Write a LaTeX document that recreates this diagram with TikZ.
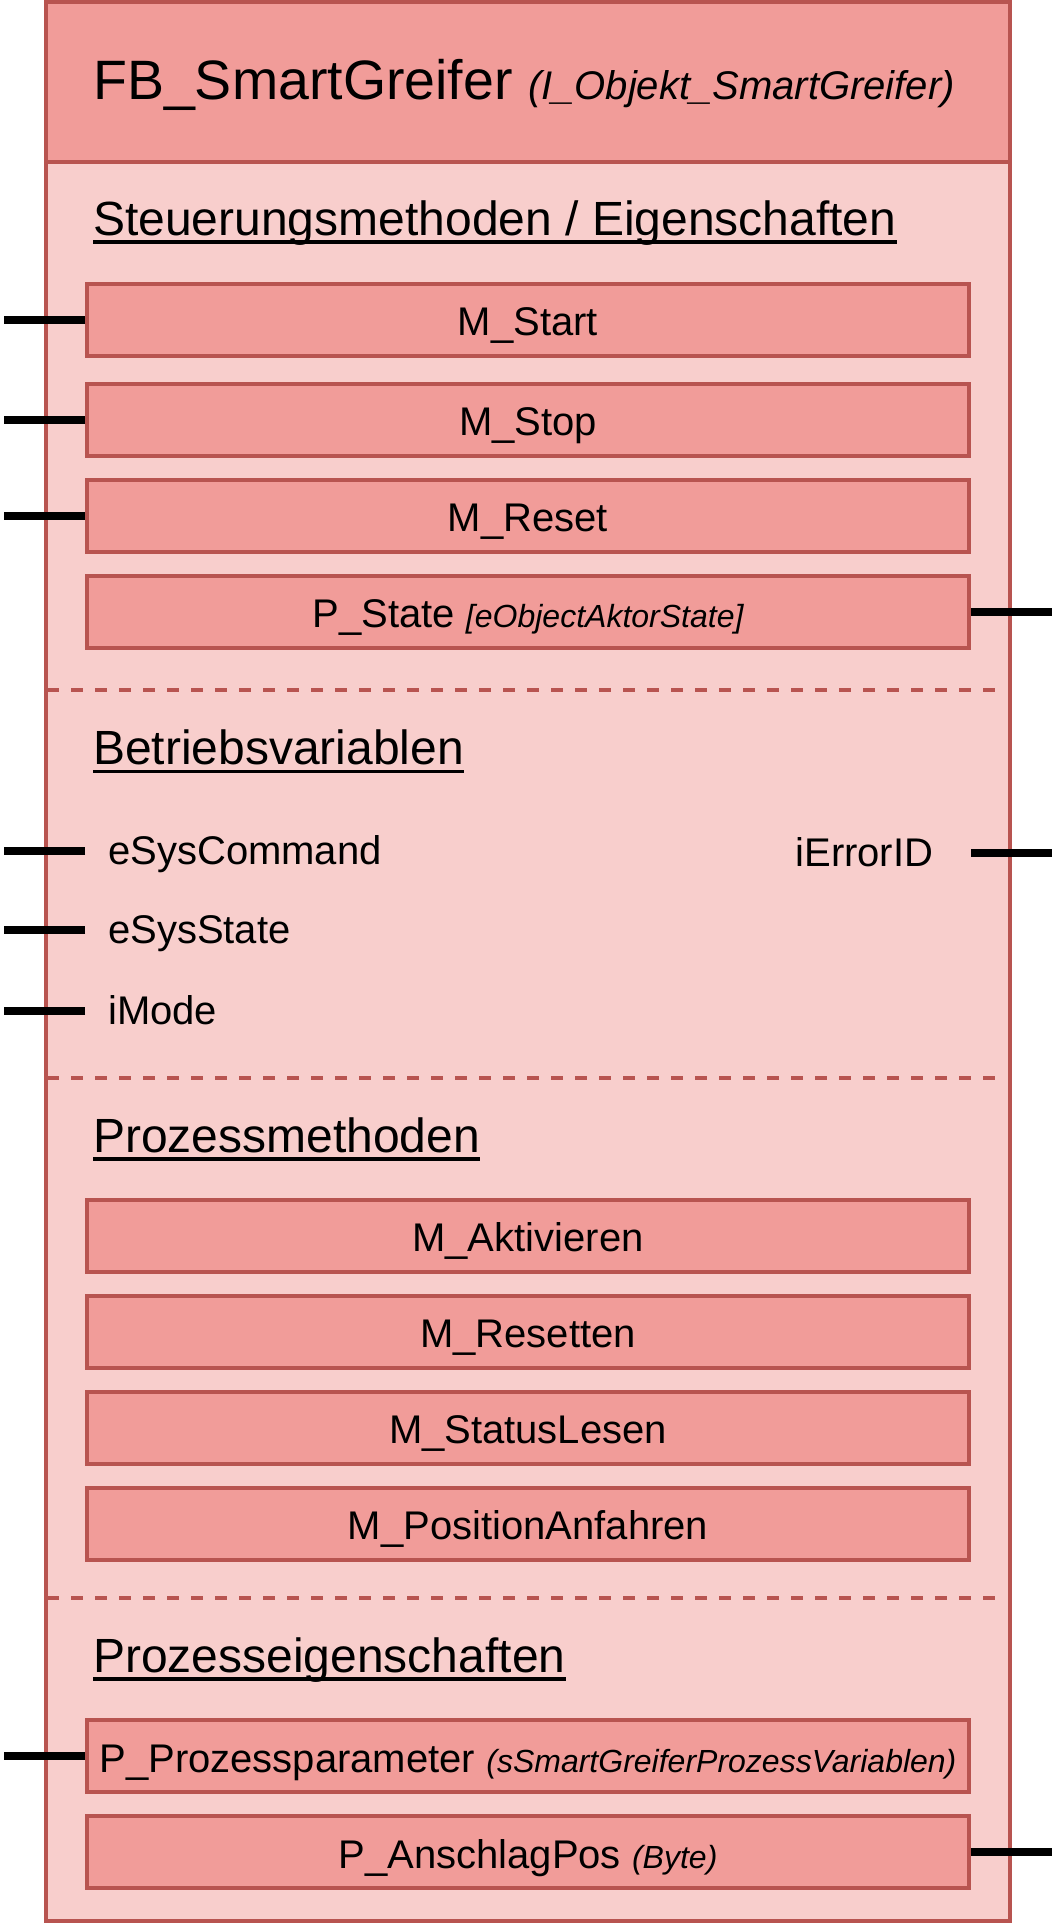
\documentclass[tikz,border=0pt]{standalone}
\usepackage{fontspec}
\setmainfont{Liberation Sans}
\usepackage{tikz}
\usetikzlibrary{positioning}
\definecolor{fbline}{HTML}{B85450}
\definecolor{fbhead}{HTML}{F19C99}
\definecolor{fbbody}{HTML}{F8CECC}

\begin{document}
\begin{tikzpicture}[
  x=1pt, y=-1pt,
  node distance=20pt,
  fbbox/.style={draw=fbline,fill=fbhead,line width=4pt,minimum width=882pt,minimum height=72pt,inner sep=0pt,text height=34pt,text depth=2pt,font=\fontsize{40}{48}\selectfont},
  heading/.style={anchor=base west,inner sep=0pt,font=\fontsize{48}{56}\selectfont},
  varname/.style={inner sep=0pt,text height=28pt,text depth=2pt,font=\fontsize{40}{48}\selectfont},
  uline/.style={line width=3.5pt},
  stub/.style={line width=8pt,black},
  sep/.style={draw=fbline,line width=3.5pt,dash pattern=on 12pt off 12pt}
]
\useasboundingbox (0,0) rectangle (1052,1924);

% frame
\draw[fbline,line width=4pt,fill=fbhead] (46,2) rectangle (1010,162);
\draw[fbline,line width=4pt,fill=fbbody] (46,162) rectangle (1010,1921);

\node[anchor=base west,inner sep=0pt,font=\fontsize{55.5}{60}\selectfont] (title) at (93,100)
  {FB\_SmartGreifer {\fontsize{40}{48}\selectfont\itshape (I\_Objekt\_SmartGreifer)}};

% Steuerungsmethoden
\node[heading] (hsteuer) at (93,235) {Steuerungsmethoden / Eigenschaften};
\node[fbbox] (mstart) at (528,319.6) {M\_Start};
\node[fbbox,below=24pt of mstart] (mstop) {M\_Stop};
\node[fbbox,below=of mstop] (mreset) {M\_Reset};
\node[fbbox,below=of mreset] (pstate) {P\_State {\fontsize{32}{38}\selectfont\itshape [eObjectAktorState]}};

\draw[sep] (47,690) -- (998,690);

% Betriebsvariablen
\node[heading] (hbetrieb) at (93,764.5) {Betriebsvariablen};
\node[varname,anchor=west] (esyscmd) at (108,851) {eSysCommand};
\node[varname,anchor=west] (esysstate) at (108,930) {eSysState};
\node[varname,anchor=west] (imode) at (108,1011) {iMode};
\node[varname,anchor=east] (ierr) at (933.5,853) {iErrorID};

\draw[sep] (47,1078) -- (998,1078);

% Prozessmethoden
\node[heading] (hpmeth) at (93,1152) {Prozessmethoden};
\node[fbbox] (maktiv) at (528,1235.5) {M\_Aktivieren};
\node[fbbox,below=of maktiv] (mresetten) {M\_Resetten};
\node[fbbox,below=of mresetten] (mstatus) {M\_StatusLesen};
\node[fbbox,below=of mstatus] (mposition) {M\_PositionAnfahren};

\draw[sep] (47,1598) -- (998,1598);

% Prozesseigenschaften
\node[heading] (hpeig) at (93,1672) {Prozesseigenschaften};
\node[fbbox] (pproz) at (528,1756) {P\_Prozessparameter {\fontsize{32}{38}\selectfont\itshape (sSmartGreiferProzessVariablen)}};
\node[fbbox,below=of pproz] (pansch) {P\_AnschlagPos {\fontsize{32}{38}\selectfont\itshape (Byte)}};

\draw[uline] ([yshift=-7pt]hsteuer.base west) -- ([yshift=-7pt]hsteuer.base east);
\draw[uline] ([yshift=-7pt]hbetrieb.base west) -- ([yshift=-7pt]hbetrieb.base east);
\draw[uline] ([yshift=-7pt]hpmeth.base west) -- ([yshift=-7pt]hpmeth.base east);
\draw[uline] ([yshift=-7pt]hpeig.base west) -- ([yshift=-7pt]hpeig.base east);

\coordinate (pinL) at (4,0);
\coordinate (pinR) at (1052,0);
\coordinate (boxL) at (85,0);
\coordinate (boxR) at (971,0);

\path (mstart.west) edge[stub] (mstart.west -| pinL)
(mstop.west) edge[stub] (mstop.west -| pinL)
(mreset.west) edge[stub] (mreset.west -| pinL)
(pstate.east) edge[stub] (pstate.east -| pinR)
(esyscmd.west -| boxL) edge[stub] (esyscmd.west -| pinL)
(esysstate.west -| boxL) edge[stub] (esysstate.west -| pinL)
(imode.west -| boxL) edge[stub] (imode.west -| pinL)
(ierr.east -| boxR) edge[stub] (ierr.east -| pinR)
(pproz.west) edge[stub] (pproz.west -| pinL)
(pansch.east) edge[stub] (pansch.east -| pinR)
;

\end{tikzpicture}
\end{document}
